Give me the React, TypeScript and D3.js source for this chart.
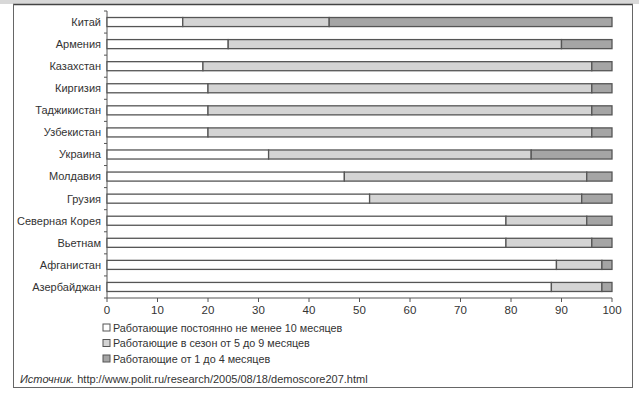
import React from 'react';
import * as d3 from 'd3';

const countries = ['Китай', 'Армения', 'Казахстан', 'Киргизия', 'Таджикистан', 'Узбекистан', 'Украина', 'Молдавия', 'Грузия', 'Северная Корея', 'Вьетнам', 'Афганистан', 'Азербайджан'];
const permanent = [15, 24, 19, 20, 20, 20, 32, 47, 52, 79, 79, 89, 88];
const seasonal = [29, 66, 77, 76, 76, 76, 52, 48, 42, 16, 17, 9, 10];
const shortTerm = [56, 10, 4, 4, 4, 4, 16, 5, 6, 5, 4, 2, 2];
const seriesNames = ['Работающие постоянно не менее 10 месяцев', 'Работающие в сезон от 5 до 9 месяцев', 'Работающие от 1 до 4 месяцев'];
const xTickValues = [0, 10, 20, 30, 40, 50, 60, 70, 80, 90, 100];

const colors = ['#ffffff', '#d4d4d4', '#a5a5a5'];
const font = "'Liberation Sans', Arial, sans-serif";

const App: React.FC = () => {
  const width = 639;
  const height = 393;
  const marginLeft = 107;
  const plotRight = 612;
  const plotTop = 11;
  const plotBottom = 298;

  const xScale = d3.scaleLinear().domain([0, 100]).range([marginLeft, plotRight]);
  const yScale = d3.scaleBand<string>().domain(countries).range([plotTop, plotBottom]).paddingInner(0.59).paddingOuter(0.295);

  const rows = countries.map((c, i) => ({ c, vals: [permanent[i], seasonal[i], shortTerm[i]] }));
  const bandStep = yScale.step();
  const bandEdges = d3.range(countries.length + 1).map(i => plotTop + i * bandStep);

  return (
    <svg width={width} height={height} style={{ position: 'absolute', left: 0, top: 0, background: '#fff' }}>
      {/* frame */}
      <rect x={0} y={0} width={width} height={4} fill="#d8d8d8" />
      <line x1={13} x2={633} y1={4.5} y2={4.5} stroke="#444" strokeWidth={1.5} />
      <line x1={13.5} x2={13.5} y1={4} y2={388} stroke="#666" strokeWidth={1} />
      <line x1={632.5} x2={632.5} y1={4} y2={388} stroke="#666" strokeWidth={1} />
      <line x1={13} x2={633} y1={387.5} y2={387.5} stroke="#666" strokeWidth={1} />

      {/* y axis */}
      <line x1={marginLeft} x2={marginLeft} y1={plotTop} y2={plotBottom} stroke="#555" strokeWidth={1} />
      {bandEdges.map((y, i) => (
        <line key={i} x1={marginLeft - 3} x2={marginLeft} y1={y} y2={y} stroke="#555" strokeWidth={1} />
      ))}
      {countries.map(c => (
        <text key={c} x={marginLeft - 6} y={(yScale(c) as number) + yScale.bandwidth() / 2} dy="0.35em" textAnchor="end"
          fontFamily={font} fontSize={11} fill="#333">{c}</text>
      ))}

      {/* x axis */}
      <line x1={marginLeft} x2={plotRight} y1={plotBottom} y2={plotBottom} stroke="#555" strokeWidth={1} />
      {xTickValues.map(v => (
        <g key={v} transform={`translate(${xScale(v)}, ${plotBottom})`}>
          <line y2={4} stroke="#555" />
          <text y={16} textAnchor="middle" fontFamily={font} fontSize={11.5} fill="#333">{v}</text>
        </g>
      ))}

      {/* bars */}
      {rows.map(({ c, vals }) => {
        let acc = 0;
        return (
          <g key={c}>
            {vals.map((v, k) => {
              const x0 = acc;
              acc += v;
              return (
                <rect key={k} x={xScale(x0)} y={yScale(c)} width={xScale(acc) - xScale(x0)} height={yScale.bandwidth()}
                  fill={colors[k]} stroke="#555" strokeWidth={1.3} />
              );
            })}
          </g>
        );
      })}

      {/* legend */}
      {seriesNames.map((n, i) => (
        <g key={n} transform={`translate(103, ${328 + i * 15.5})`}>
          <rect x={0} y={-4} width={7} height={7} fill={colors[i]} stroke="#555" strokeWidth={1} />
          <text x={10} y={0} dy="0.35em" fontFamily={font} fontSize={10.8} fill="#333">{n}</text>
        </g>
      ))}

      <text x={20} y={379} dy="0.35em" fontFamily={font} fontSize={11} fill="#333">
        <tspan fontStyle="italic">Источник.</tspan> http://www.polit.ru/research/2005/08/18/demoscore207.html
      </text>
    </svg>
  );
};

export default App;
